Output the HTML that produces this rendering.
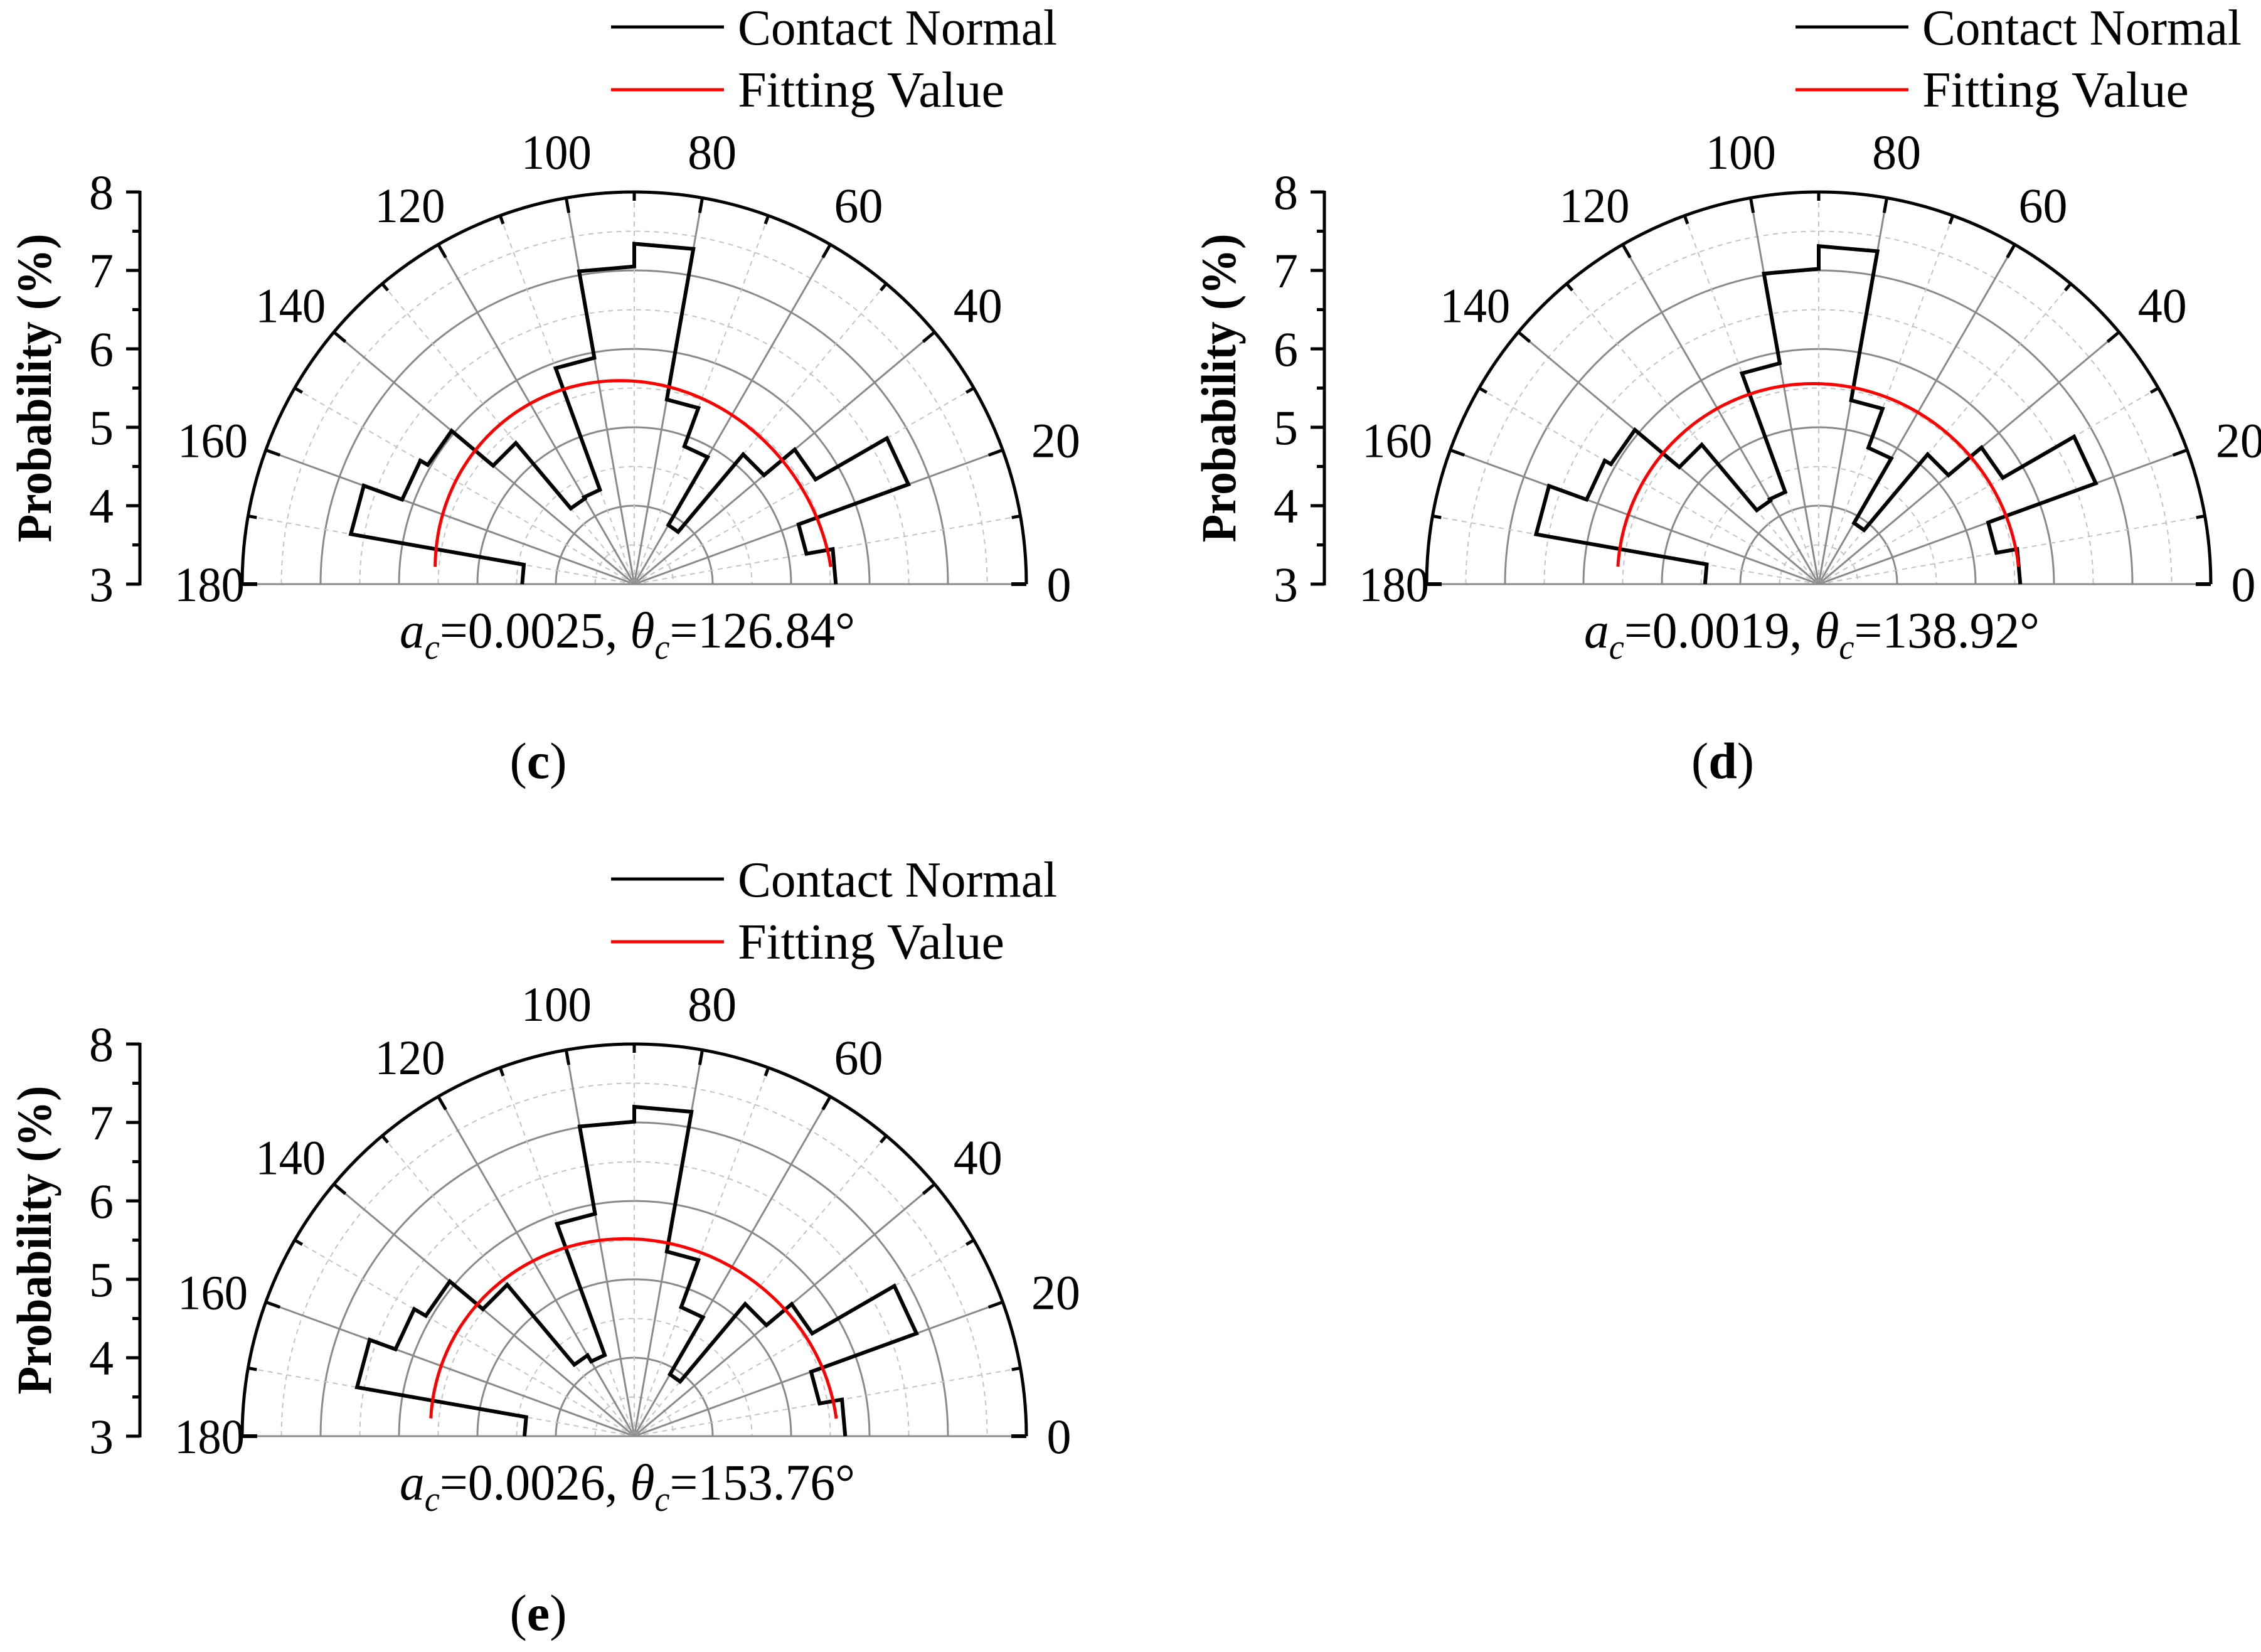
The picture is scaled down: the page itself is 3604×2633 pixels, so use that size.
<!DOCTYPE html>
<html><head><meta charset="utf-8"><style>
html,body{margin:0;padding:0;background:#fff;}
svg{display:block;}
svg text{font-family:"Liberation Serif","Times New Roman","DejaVu Serif",serif;fill:#000;}
</style></head><body>
<svg id="fig" width="3604" height="2633" viewBox="0 0 3604 2633" xmlns="http://www.w3.org/2000/svg" font-family="Liberation Serif, Times New Roman, DejaVu Serif, serif"></svg>
<script>
// ---- data ----
const binStarts = [0,10,20,30,40,50,60,70,80,90,100,110,120,130,140,150,160,170];
const binWidth = 10;
const contactC = [5.57,5.23,6.72,5.67,5.16,3.87,4.87,5.39,7.34,7.05,5.93,4.28,4.26,5.35,6.04,6.15,6.67,4.43];
const contactD = [5.57,5.30,6.76,5.71,5.16,3.90,4.85,5.38,7.31,7.02,5.86,4.25,4.23,5.32,6.06,6.15,6.66,4.45];
const contactE = [5.69,5.40,6.83,5.62,5.20,3.91,4.75,5.39,7.20,7.01,5.88,4.10,4.19,5.52,6.07,6.24,6.59,4.40];
const fitBase = [5.56,5.56,5.555];
const fitAmp = [0.018,0.006,0.012];
const thetaC = [126.84,138.92,153.76];
const acLabels = ["0.0025","0.0019","0.0026"];
const thetaLabels = ["126.84","138.92","153.76"];
const panelLetters = ["c","d","e"];
const radialTicks = [3,4,5,6,7,8];
const angleTicks = [0,20,40,60,80,100,120,140,160,180];
const rMin = 3, rMax = 8;

const NS = "http://www.w3.org/2000/svg";
const svg = document.getElementById('fig');
const FONT = "Liberation Serif, Times New Roman, DejaVu Serif, serif";
function mk(tag, attrs, parent){
  const e = document.createElementNS(NS, tag);
  for (const k in attrs) e.setAttribute(k, attrs[k]);
  if (tag === 'text') e.setAttribute('font-family', FONT);
  (parent||svg).appendChild(e);
  return e;
}
const panels = [
  {cx:1011, cy:931, data:contactC},
  {cx:2899, cy:931, data:contactD},
  {cx:1011, cy:2289, data:contactE}
];
const R = 625;

panels.forEach((p, pi) => {
  const g = mk('g', {});
  
  
  const rs = v => (v - rMin) / (rMax - rMin) * R;
  const pt = (ang, v) => {
    const r = rs(v), a = ang * Math.PI / 180;
    return [p.cx + r * Math.cos(a), p.cy - r * Math.sin(a)];
  };
  for (let v = 3.5; v < 8; v += 0.5) {
    const r = rs(v);
    const isMajor = Math.abs(v - Math.round(v)) < 1e-6;
    const c = mk('path', {d:`M${p.cx - r},${p.cy} A${r},${r} 0 0 1 ${p.cx + r},${p.cy}`,
      fill:'none', stroke: isMajor ? '#8a8a8a' : '#c4c4c4', 'stroke-width': isMajor ? 3 : 2,
      'stroke-dasharray': isMajor ? 'none' : '8,7'}, g);
    
    
  }
  for (let a = 10; a < 180; a += 10) {
    const major = a % 20 === 0;
    const [x, y] = pt(a, 8);
    const l = mk('line', {x1:p.cx, y1:p.cy, x2:x, y2:y, stroke: major ? '#8a8a8a' : '#c4c4c4',
      'stroke-width': major ? 3 : 2, 'stroke-dasharray': major ? 'none' : '8,7'}, g);
    
    
  }
  const bl = mk('line', {x1:p.cx - R, y1:p.cy, x2:p.cx + R, y2:p.cy, stroke:'#8a8a8a', 'stroke-width':3}, g);
  
  
  const arc = mk('path', {d:`M${p.cx - R},${p.cy} A${R},${R} 0 0 1 ${p.cx + R},${p.cy}`, fill:'none', stroke:'#000', 'stroke-width':5}, g);
  
  
  for (let a = 10; a < 180; a += 10) {
    const len = a % 20 === 0 ? 24 : 14;
    const [x1, y1] = pt(a, 8);
    const [x2, y2] = pt(a, 8 - len / R * 5);
    const t = mk('line', {x1, y1, x2, y2, stroke:'#000', 'stroke-width':5}, g);
    
    
  }
  [[p.cx - R, p.cx - R + 24], [p.cx + R - 24, p.cx + R]].forEach(([a, b]) => {
    const t = mk('line', {x1:a, y1:p.cy, x2:b, y2:p.cy, stroke:'#000', 'stroke-width':6}, g);
    
    
  });
  angleTicks.forEach(a => {
    const base = (a === 0 || a === 180);
    const rr = base ? R + 52 : R + 90;
    const ar = a * Math.PI / 180;
    const attrs = {x:p.cx + rr * Math.cos(ar), y:p.cy - rr * Math.sin(ar) + (base ? 27 : 42), 'font-size':78, 'text-anchor':'middle'};
    if (a >= 100) { attrs.textLength = 112; attrs.lengthAdjust = 'spacingAndGlyphs'; }
    const t = mk('text', attrs, g);
    t.textContent = a;
    
    
  });
  const ax = p.cx - 788;
  const yOf = v => p.cy - rs(v);
  const axl = mk('line', {x1:ax, y1:yOf(8) - 2, x2:ax, y2:yOf(3) + 2, stroke:'#000', 'stroke-width':5}, g);
  
  
  for (let v = 3; v <= 8.001; v += 0.5) {
    const major = Math.abs(v - Math.round(v)) < 1e-6;
    const t = mk('line', {x1:ax - (major ? 22 : 12), y1:yOf(v), x2:ax, y2:yOf(v), stroke:'#000', 'stroke-width':5}, g);
    
    
  }
  radialTicks.forEach(v => {
    const t = mk('text', {x:ax - 42, y:yOf(v) + 27, 'font-size':78, 'text-anchor':'end'}, g);
    t.textContent = v;
    
    
  });
  const yl = mk('text', {x:0, y:0, 'font-size':78, 'font-weight':'bold', 'text-anchor':'middle', textLength:492, lengthAdjust:'spacingAndGlyphs',
    transform:`translate(${p.cx - 930},${yOf(5.5)}) rotate(-90)`}, g);
  yl.textContent = 'Probability (%)';
  
  
  let dstr = '';
  binStarts.forEach((b, i) => {
    const v = p.data[i];
    const [x1, y1] = pt(b, v), [x2, y2] = pt(b + binWidth, v);
    dstr += (i === 0 ? 'M' : 'L') + x1.toFixed(1) + ',' + y1.toFixed(1) + ' L' + x2.toFixed(1) + ',' + y2.toFixed(1) + ' ';
  });
  const h = mk('path', {d:dstr, fill:'none', stroke:'#000', 'stroke-width':6, 'stroke-linejoin':'miter'}, g);
  
  
  let fd = '';
  for (let a = 5; a <= 175; a += 1) {
    const v = fitBase[pi] * (1 + fitAmp[pi] * Math.cos(2 * (a - thetaC[pi]) * Math.PI / 180));
    const [x, y] = pt(a, v);
    fd += (a === 5 ? 'M' : 'L') + x.toFixed(1) + ',' + y.toFixed(1) + ' ';
  }
  const f = mk('path', {d:fd, fill:'none', stroke:'#ff0000', 'stroke-width':5}, g);
  
  
  const lg = mk('g', {}, g);
  
  
  const ly = p.cy - 931;
  const lx = p.cx - 1011;
  [['Contact Normal', '#000', 43, 71], ['Fitting Value', '#ff0000', 143, 170]].forEach(([lab, col, yy, by], k) => {
    const ln = mk('line', {x1:lx + 974, y1:ly + yy, x2:lx + 1154, y2:ly + yy, stroke:col, 'stroke-width':5}, lg);
    
    
    const tx = mk('text', {x:lx + 1176, y:ly + by, 'font-size':80, textLength: k === 0 ? 509 : 425, lengthAdjust:'spacingAndGlyphs'}, lg);
    tx.textContent = lab;
    
    
  });
  const pt2 = mk('text', {x:p.cx - 374, y:p.cy + 101, 'font-size':82, textLength:726, lengthAdjust:'spacingAndGlyphs'}, g);
  
  
  pt2.innerHTML = `<tspan font-style="italic">a</tspan><tspan font-style="italic" font-size="56" dy="18">c</tspan><tspan dy="-18">=${acLabels[pi]}, </tspan><tspan font-style="italic">θ</tspan><tspan font-style="italic" font-size="56" dy="18">c</tspan><tspan dy="-18">=${thetaLabels[pi]}°</tspan>`;
  const cap = mk('text', {x:p.cx - 153, y:p.cy + 309, 'font-size':82, 'text-anchor':'middle'}, g);
  cap.innerHTML = `(<tspan font-weight="bold">${panelLetters[pi]}</tspan>)`;
  
  
});
</script>
</body></html>
